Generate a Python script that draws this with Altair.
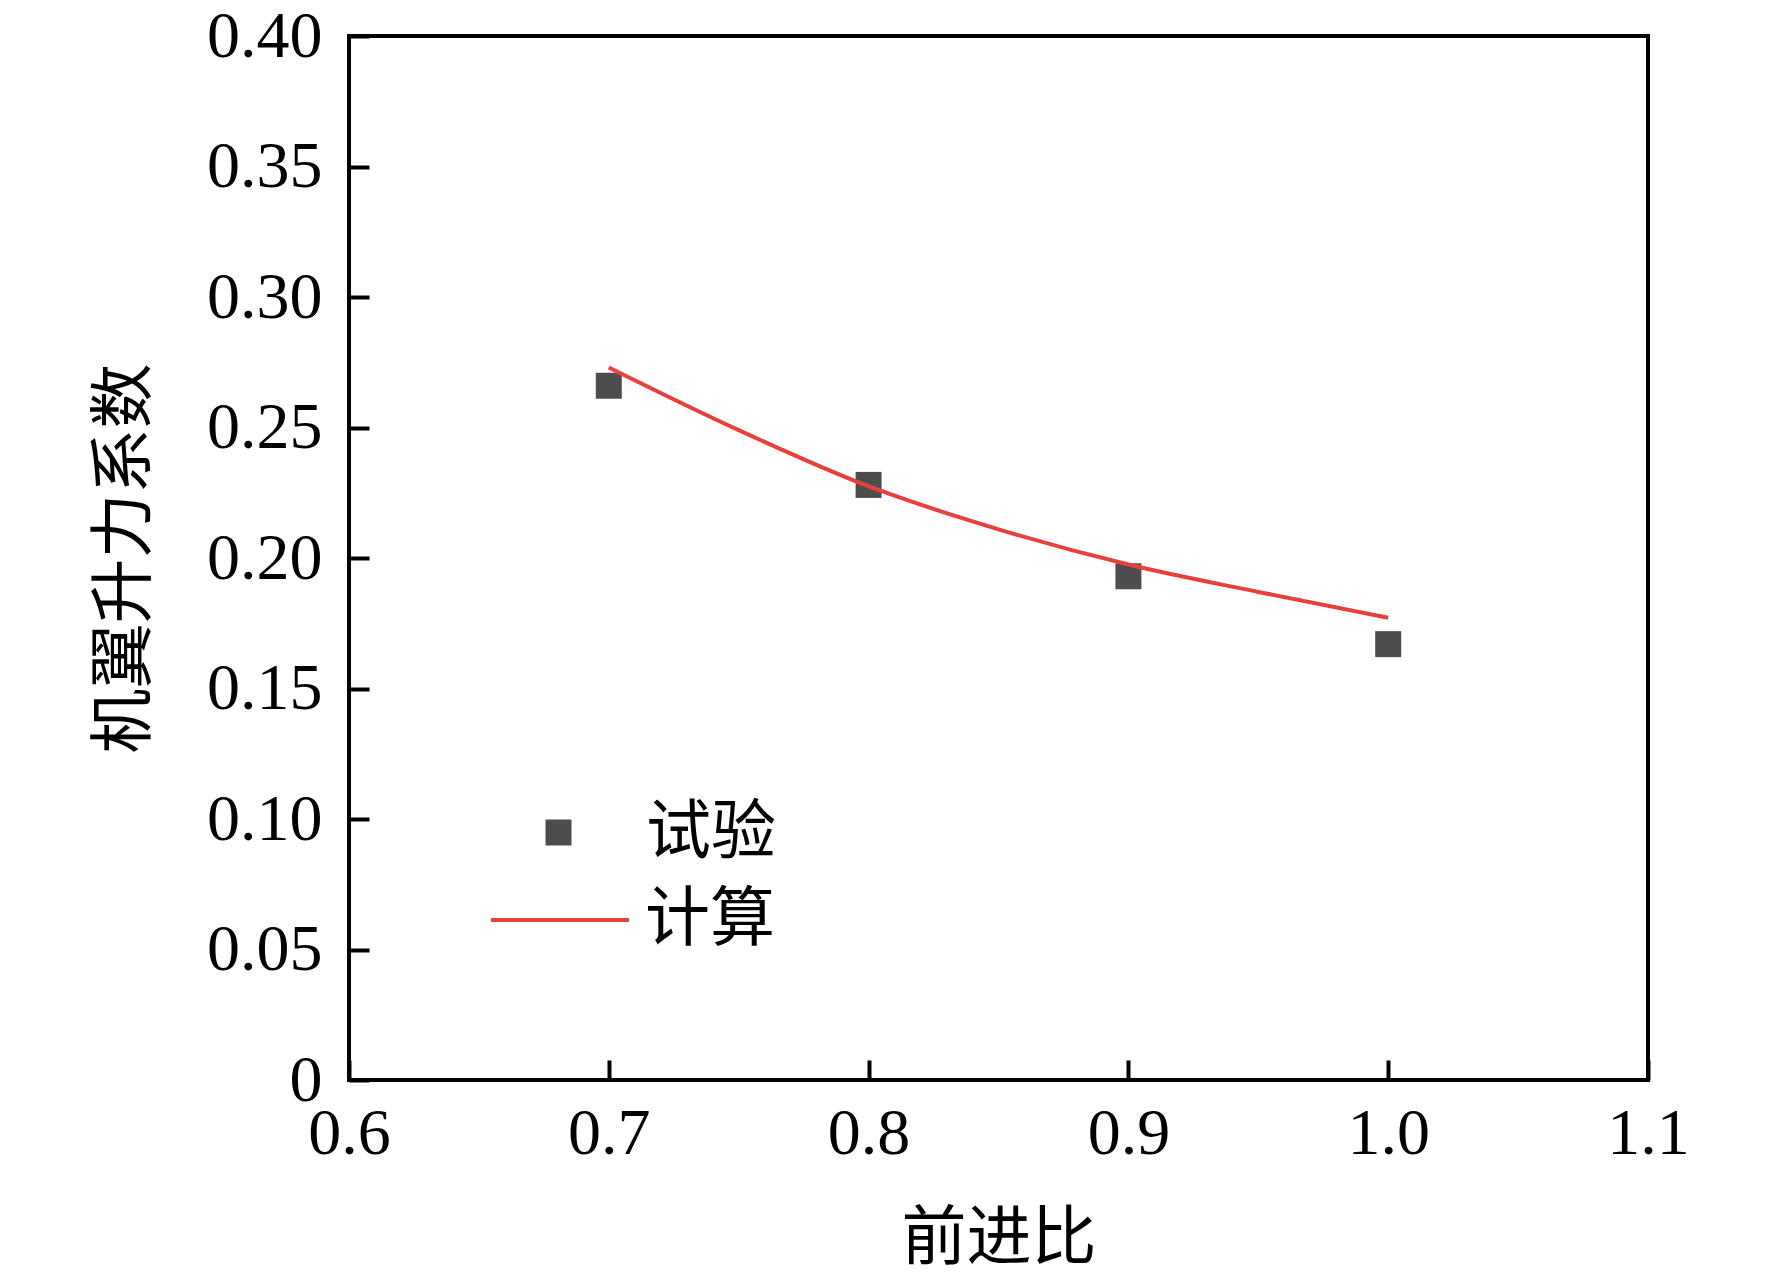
import altair as alt
import pandas as pd

# Experimental data (试验)
exp_j = [0.7, 0.8, 0.9, 1.0]
exp_cl = [0.266, 0.228, 0.193, 0.167]

# Calculated curve (计算)
calc_j = [0.70, 0.75, 0.80, 0.85, 0.90, 0.95, 1.00]
calc_cl = [0.273, 0.249, 0.2275, 0.211, 0.1975, 0.187, 0.1771]

x_ticks = [0.6, 0.7, 0.8, 0.9, 1.0, 1.1]
y_ticks = [0, 0.05, 0.10, 0.15, 0.20, 0.25, 0.30, 0.35, 0.40]

df_exp = pd.DataFrame({"J": exp_j, "CL": exp_cl, "series": ["试验"] * len(exp_j)})
df_calc = pd.DataFrame({"J": calc_j, "CL": calc_cl, "series": ["计算"] * len(calc_j)})

NUM_FONT = "Liberation Serif"
CJK_FONT = "Noto Sans CJK SC"
W, H = 1299, 1044

xscale = alt.Scale(domain=[0.6, 1.1], nice=False, zero=False)
yscale = alt.Scale(domain=[0, 0.4], nice=False, zero=True)

# tick-only axes (inward ticks)
x_tick_axis = alt.Axis(orient="bottom", values=x_ticks, labels=False, domain=False, grid=False,
                       ticks=True, tickSize=20, tickWidth=4, tickColor="black", offset=-20, title=None)
y_tick_axis = alt.Axis(orient="left", values=y_ticks, labels=False, domain=False, grid=False,
                       ticks=True, tickSize=20, tickWidth=4, tickColor="black", offset=-20, title=None)

# label axes
x_label_axis = alt.Axis(orient="bottom", values=x_ticks, format=".1f", domain=False, grid=False,
                        ticks=False, tickSize=0, labelPadding=21, labelFont=NUM_FONT, labelFontSize=66,
                        labelColor="black", labelFlush=False, labelOverlap=False,
                        title="前进比", titleFont=CJK_FONT, titleFontSize=65,
                        titleFontWeight="normal", titleColor="black", titleY=158, titleBaseline="middle")
y_label_axis = alt.Axis(orient="left", values=y_ticks, domain=False, grid=False,
                        ticks=False, tickSize=0, labelPadding=27, labelFont=NUM_FONT, labelFontSize=66,
                        labelColor="black", labelFlush=False, labelOverlap=False,
                        labelExpr="datum.value == 0 ? '0' : format(datum.value, '.2f')",
                        title="机翼升力系数", titleFont=CJK_FONT, titleFontSize=65,
                        titleFontWeight="normal", titleColor="black", titleAngle=-90,
                        titleX=-225, titleY=H / 2, titleBaseline="middle", titleAlign="center")

points = alt.Chart(df_exp).mark_point(shape="square", filled=True, size=676, opacity=1).encode(
    x=alt.X("J:Q", scale=xscale, axis=x_tick_axis),
    y=alt.Y("CL:Q", scale=yscale, axis=y_tick_axis),
    fill=alt.Fill("series:N", scale=alt.Scale(domain=["试验"], range=["#4d4d4d"]),
                  legend=alt.Legend(orient="none", legendX=177, legendY=764, title=None,
                                    symbolType="square", symbolSize=676, symbolStrokeWidth=0,
                                    labelFont=CJK_FONT, labelFontSize=65, labelColor="black",
                                    labelOffset=55, padding=0)),
)

line = alt.Chart(df_calc).mark_line(strokeWidth=4, interpolate="monotone").encode(
    x=alt.X("J:Q", scale=xscale, axis=x_label_axis),
    y=alt.Y("CL:Q", scale=yscale, axis=y_label_axis),
    stroke=alt.Stroke("series:N", scale=alt.Scale(domain=["计算"], range=["#e8413c"]),
                      legend=alt.Legend(orient="none", legendX=140, legendY=813, title=None,
                                        symbolType="stroke", symbolSize=19044, symbolStrokeWidth=4,
                                        labelFont=CJK_FONT, labelFontSize=65, labelColor="black",
                                        labelOffset=14, padding=0)),
)

chart = alt.layer(points, line).resolve_axis(x="independent", y="independent").resolve_scale(
    fill="independent", stroke="independent"
).properties(
    width=W, height=H,
    autosize=alt.AutoSizeParams(type="none"),
    padding={"left": 341, "top": 28, "right": 100, "bottom": 188},
    background="white",
).configure_view(stroke="black", strokeWidth=4)

chart.save("out.html", embed_options={"renderer": "svg", "actions": False})
